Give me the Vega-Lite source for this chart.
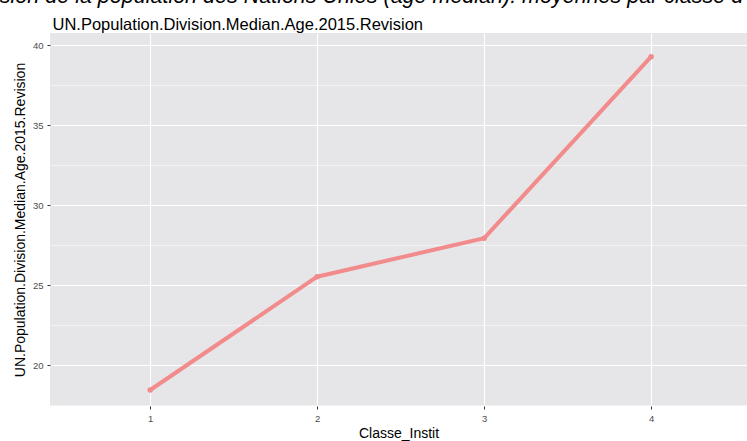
{
  "$schema": "https://vega.github.io/schema/vega-lite/v6.json",
  "width": 697,
  "height": 373,
  "autosize": {"type": "none"},
  "padding": {"left": 50, "top": 33, "right": 0, "bottom": 35},
  "background": "white",
  "title": {
    "text": "Division de la population des Nations Unies (âge médian): moyennes par classe d'institution",
    "anchor": "start",
    "frame": "group",
    "dx": -86,
    "offset": -8,
    "fontSize": 21.5,
    "fontStyle": "italic",
    "fontWeight": "normal",
    "font": "Liberation Sans",
    "color": "#000000",
    "baseline": "alphabetic"
  },
  "config": {
    "view": {"fill": "#e6e6e8", "stroke": null},
    "font": "Liberation Sans"
  },
  "data": {
    "values": [
      {"Classe_Instit": 1, "age": 18.44},
      {"Classe_Instit": 2, "age": 25.52},
      {"Classe_Instit": 3, "age": 27.93},
      {"Classe_Instit": 4, "age": 39.27}
    ]
  },
  "layer": [
    {
      "mark": {"type": "line", "color": "#f28b8b", "strokeWidth": 4},
      "encoding": {
        "x": {
          "field": "Classe_Instit",
          "type": "quantitative",
          "scale": {"domain": [0.4, 4.574], "nice": false, "zero": false},
          "axis": {
            "values": [1, 2, 3, 4],
            "title": "Classe_Instit",
            "titleFontSize": 14,
            "titleFontWeight": "normal",
            "titleColor": "#000000",
            "titlePadding": 4,
            "labelFontSize": 9.5,
            "labelColor": "#4d4d4d",
            "labelPadding": 4,
            "tickColor": "#333333",
            "tickSize": 3,
            "domain": false,
            "grid": true,
            "gridColor": "#ffffff",
            "gridWidth": 1.1
          }
        },
        "y": {
          "field": "age",
          "type": "quantitative",
          "scale": {"domain": [17.44, 40.75], "nice": false, "zero": false},
          "axis": {
            "values": [20, 25, 30, 35, 40],
            "title": "UN.Population.Division.Median.Age.2015.Revision",
            "titleFontSize": 14,
            "titleFontWeight": "normal",
            "titleColor": "#000000",
            "titlePadding": 5,
            "labelFontSize": 9.5,
            "labelColor": "#4d4d4d",
            "labelPadding": 4,
            "tickColor": "#333333",
            "tickSize": 3,
            "domain": false,
            "grid": true,
            "gridColor": "#ffffff",
            "gridWidth": 1.1
          }
        }
      }
    },
    {
      "mark": {"type": "point", "filled": true, "color": "#f28b8b", "size": 30, "opacity": 1},
      "encoding": {
        "x": {
          "field": "Classe_Instit",
          "type": "quantitative",
          "scale": {"domain": [0.4, 4.574], "nice": false, "zero": false},
          "axis": {
            "orient": "top",
            "title": "UN.Population.Division.Median.Age.2015.Revision",
            "titleX": 2,
            "titleY": -4,
            "titleAlign": "left",
            "titleAnchor": "start",
            "titleBaseline": "alphabetic",
            "titleFontSize": 16.5,
            "titleFontWeight": "normal",
            "titleColor": "#000000",
            "labels": false,
            "ticks": false,
            "domain": false,
            "grid": false
          }
        },
        "y": {
          "field": "age",
          "type": "quantitative",
          "scale": {"domain": [17.44, 40.75], "nice": false, "zero": false},
          "axis": {
            "orient": "right",
            "values": [17.5, 22.5, 27.5, 32.5, 37.5],
            "title": null,
            "labels": false,
            "ticks": false,
            "domain": false,
            "grid": true,
            "gridColor": "#ffffff",
            "gridWidth": 0.5
          }
        }
      }
    }
  ],
  "resolve": {"scale": {"x": "independent", "y": "independent"}}
}
